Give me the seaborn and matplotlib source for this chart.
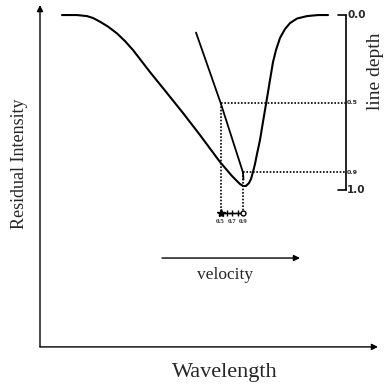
import numpy as np
import pandas as pd
import seaborn as sns
import matplotlib
matplotlib.use("Agg")
import matplotlib.pyplot as plt

# line profile (wavelength in arbitrary units, residual intensity)
wave = [2.2, 3.7, 4.7, 5.3, 6.0, 6.8, 7.7, 8.5, 9.3, 11.0, 12.7, 14.3, 16.0, 18.0,
        18.6, 19.2, 19.7, 20.0, 20.3, 20.6, 20.9, 21.1, 21.3, 21.5, 21.7, 22.0,
        22.33, 22.67, 23.0, 23.3, 23.6, 24.0, 24.5, 25.0, 25.7, 26.7, 27.8, 28.8]
intensity = [1.0, 1.0, 0.994, 0.983, 0.962, 0.934, 0.895, 0.851, 0.80, 0.674, 0.554, 0.44,
             0.314, 0.16, 0.12, 0.08, 0.051, 0.034, 0.023, 0.023, 0.04, 0.063, 0.103,
             0.149, 0.206, 0.286, 0.40, 0.514, 0.629, 0.731, 0.80, 0.869, 0.92, 0.954,
             0.98, 0.994, 1.0, 1.0]

# bisector
bis_wave = [15.6, 18.05, 20.3, 20.35]
bis_int = [0.90, 0.50, 0.10, 0.06]

# bisector positions at depths 0.5 .. 0.9 (projected onto the small velocity scale)
depth_levels = [0.5, 0.6, 0.7, 0.8, 0.9]
depth_wave = [18.05, 18.7, 19.2, 19.8, 20.3]
depth_labels = ["0.5", "0.7", "0.9"]
depth_label_wave = [18.05, 19.2, 20.3]

# right-hand line depth scale
scale_x = 30.6
scale_ticks = [0.0, 1.0]
scale_marks = [0.5, 0.9]

sns.set_theme(style="white")
plt.rcParams['font.family'] = ['Liberation Serif', 'DejaVu Serif']

fig = plt.figure(figsize=(3.85, 3.84), dpi=100)
ax = fig.add_axes([0, 0, 1, 1])
ax.set_xlim(-4.0, 34.5)
ax.set_ylim(-1.109, 1.086)
ax.axis('off')

# main axes with arrows
arrow = dict(arrowstyle='-|>', color='black', lw=1.0, mutation_scale=9,
             shrinkA=0, shrinkB=0)
ax.annotate("", xy=(0, 1.057), xytext=(0, -0.897), arrowprops=arrow)
ax.annotate("", xy=(33.8, -0.897), xytext=(0, -0.897), arrowprops=arrow)

# profile
sns.lineplot(x=wave, y=intensity, sort=False, estimator=None, color='black', lw=1.5, ax=ax)

# bisector
sns.lineplot(x=bis_wave, y=bis_int, sort=False, estimator=None, color='black', lw=1.3, ax=ax)

# dotted guide lines
dot = dict(color='black', lw=1.2, ls=(0, (1, 1)))
scale_bottom = -0.131
for d, w in zip([0.5, 0.9], [depth_wave[0], depth_wave[-1]]):
    lev = 1 - d
    ax.plot([w, scale_x], [lev, lev], **dot)
    ax.plot([w, w], [lev, scale_bottom], **dot)

# small velocity scale with markers
ax.plot(depth_wave, [scale_bottom] * len(depth_wave), color='black', lw=1.0)
ax.plot(depth_wave[0], scale_bottom, marker='*', color='black', ms=6)
ax.plot(depth_wave[1:-1], [scale_bottom] * 3, marker='+', ls='none', color='black', ms=4, mew=1)
ax.plot(depth_wave[-1], scale_bottom, marker='o', mfc='white', mec='black', ms=3.5, mew=1)
for lab, w in zip(depth_labels, depth_label_wave):
    ax.text(w, scale_bottom - 0.035, lab, ha='center', va='top', fontsize=5,
            fontweight='bold')

# line depth scale on the right
ax.plot([scale_x, scale_x], [1 - scale_ticks[0], 1 - scale_ticks[1]], color='black', lw=1.2)
for t in scale_ticks:
    ax.plot([scale_x - 0.8, scale_x], [1 - t, 1 - t], color='black', lw=1.2)
    ax.text(scale_x + 0.1, 1 - t, f"{t:.1f}", ha='left', va='center', fontsize=7.5,
            fontweight='bold', family='DejaVu Sans')
for m in scale_marks:
    ax.text(scale_x + 0.1, 1 - m, f"{m:.1f}", ha='left', va='center', fontsize=4.5,
            fontweight='bold', family='DejaVu Sans')
ax.text(33.6, 0.68, "line depth", rotation=90, ha='center', va='center', fontsize=14)

# velocity arrow
ax.annotate("", xy=(26.0, -0.389), xytext=(12.2, -0.389), arrowprops=arrow)
ax.text(18.5, -0.486, "velocity", ha='center', va='center', fontsize=12.5)

# axis labels
ax.text(18.5, -1.046, "Wavelength", ha='center', va='center', fontsize=16)
ax.text(-2.0, 0.149, "Residual Intensity", rotation=90, ha='center', va='center', fontsize=13)

fig.savefig("out.png", dpi=100)
